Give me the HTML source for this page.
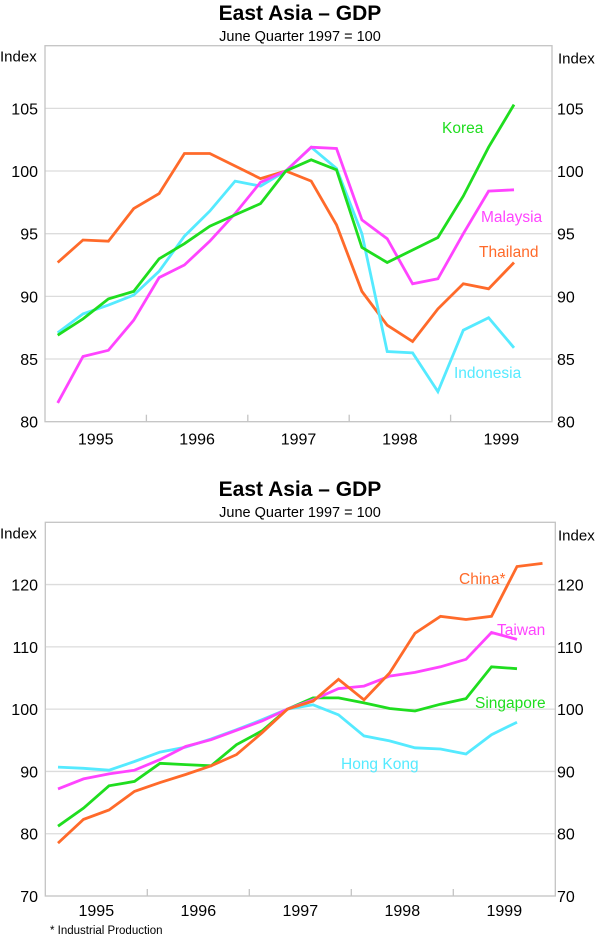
<!DOCTYPE html>
<html><head><meta charset="utf-8"><style>
html,body{margin:0;padding:0;background:#fff;}
svg{display:block;font-family:"Liberation Sans",Arial,sans-serif;}
</style></head><body>
<svg id="svg" width="600" height="938" viewBox="0 0 600 938" xmlns="http://www.w3.org/2000/svg"></svg>
<script>
// ---- Data: top chart (quarters 1995Q1..1999Q3) ----
const topYTicks = [80, 85, 90, 95, 100, 105];
const topThailand = [92.7,94.5,94.4,97.0,98.2,101.4,101.4,100.4,99.4,100,99.2,95.7,90.4,87.7,86.4,89.0,91.0,90.6,92.7];
const topKorea = [86.9,88.2,89.8,90.4,93.0,94.2,95.6,96.5,97.4,100,100.9,100.1,93.9,92.7,93.7,94.7,98.0,101.9,105.3];
const topMalaysia = [81.5,85.2,85.7,88.1,91.5,92.5,94.4,96.6,99.1,100,101.9,101.8,96.1,94.6,91.0,91.4,95.0,98.4,98.5];
const topIndonesia = [87.1,88.6,89.3,90.1,92.0,94.8,96.8,99.2,98.8,100,101.9,100.2,95.0,85.6,85.5,82.4,87.3,88.3,85.9];
// ---- Data: bottom chart ----
const botYTicks = [70, 80, 90, 100, 110, 120];
const botChina = [78.5,82.3,83.8,86.8,88.2,89.5,90.9,92.7,96.2,100,101.3,104.8,101.5,105.8,112.2,114.9,114.4,114.9,122.9,123.4];
const botTaiwan = [87.2,88.8,89.6,90.2,91.9,94.0,95.1,96.6,98.1,100,101.5,103.3,103.7,105.3,105.9,106.8,108.0,112.3,111.2];
const botSingapore = [81.2,84.1,87.7,88.4,91.3,91.1,90.9,94.3,96.5,100,101.8,101.8,101.0,100.1,99.7,100.8,101.7,106.8,106.5];
const botHongKong = [90.7,90.5,90.2,91.6,93.1,93.9,95.2,96.7,98.3,100,100.7,99.1,95.7,94.9,93.8,93.6,92.8,95.9,97.9];
const years = ["1995","1996","1997","1998","1999"];

const NS = "http://www.w3.org/2000/svg";
const svg = document.getElementById('svg');
function mk(tag, attrs, parent){const e=document.createElementNS(NS,tag);for(const k in attrs)e.setAttribute(k,attrs[k]);(parent||svg).appendChild(e);return e;}
function txt(s, attrs, parent){const e=mk('text',attrs,parent);e.textContent=s;return e;}

function chart(cfg){
  const g = mk('g',{});
  
  
  const L=cfg.left,R=cfg.right,T=cfg.top,B=cfg.bottom;
  const x = t => L + (t-1995)/5*(R-L);
  const y = v => B - (v-cfg.ymin)/(cfg.ymax-cfg.ymin)*(B-T);
  const t1 = txt('East Asia – GDP',{x:300,y:cfg.titleY,'text-anchor':'middle','font-size':21,'font-weight':'bold'},g);
  
  
  const t2 = txt('June Quarter 1997 = 100',{x:300,y:cfg.titleY+21,'text-anchor':'middle','font-size':14.5},g);
  
  
  cfg.ticks.forEach(v=>{
    if(v!==cfg.ymin){const gl=mk('line',{x1:L,x2:R,y1:y(v),y2:y(v),stroke:'#dcdcdc','stroke-width':1.3},g);
      
      }
    const a=txt(String(v),{x:38,y:y(v)+6,'text-anchor':'end','font-size':16},g);
    
    
    const b=txt(String(v),{x:557,y:y(v)+6,'text-anchor':'start','font-size':16},g);
    
    
  });
  const f=mk('rect',{x:L,y:T,width:R-L,height:B-T,fill:'none',stroke:'#c4c4c4','stroke-width':1.3},g);
  
  
  const i1=txt('Index',{x:0,y:T+16,'font-size':15},g);
  
  
  const i2=txt('Index',{x:558,y:T+18,'font-size':15},g);
  
  
  years.forEach((yr,i)=>{
    if(i>0){const tk=mk('line',{x1:x(1995+i),x2:x(1995+i),y1:B,y2:B-7,stroke:'#c4c4c4','stroke-width':1.3},g);
      
      }
    const l=txt(yr,{x:x(1995.5+i),y:B+cfg.yearDy,'text-anchor':'middle','font-size':16},g);
    
    
  });
  cfg.series.forEach(s=>{
    const pts=s.data.map((v,i)=>x(1995.125+i*0.25).toFixed(1)+','+y(v).toFixed(1)).join(' ');
    const p=mk('polyline',{points:pts,fill:'none',stroke:s.color,'stroke-width':2.8,'stroke-linejoin':'miter'},g);
    
    
    const lb=txt(s.label,{x:s.lx,y:s.ly,fill:s.color,'font-size':15.5},g);
    
    
  });
}

chart({name:'top-chart',left:45,right:552,top:45.7,bottom:421.7,ymin:80,ymax:110,ticks:topYTicks,titleY:20,yearDy:23,
  series:[
    {key:'thailand',label:'Thailand',color:'#ff6a2a',data:topThailand,lx:479,ly:257},
    {key:'indonesia',label:'Indonesia',color:'#55eaff',data:topIndonesia,lx:454,ly:378},
    {key:'malaysia',label:'Malaysia',color:'#ff44ff',data:topMalaysia,lx:481,ly:222},
    {key:'korea',label:'Korea',color:'#1fdd1f',data:topKorea,lx:442,ly:133}
  ]});
chart({name:'bottom-chart',left:45.3,right:555.3,top:522.3,bottom:896,ymin:70,ymax:130,ticks:botYTicks,titleY:496,yearDy:20,
  series:[
    {key:'hong-kong',label:'Hong Kong',color:'#55eaff',data:botHongKong,lx:341,ly:769},
    {key:'singapore',label:'Singapore',color:'#1fdd1f',data:botSingapore,lx:475,ly:708},
    {key:'taiwan',label:'Taiwan',color:'#ff44ff',data:botTaiwan,lx:497,ly:635},
    {key:'china',label:'China*',color:'#ff6a2a',data:botChina,lx:459,ly:584}
  ]});
const fn=txt('*  Industrial Production',{x:50,y:934,'font-size':11.5});


</script>
</body></html>
